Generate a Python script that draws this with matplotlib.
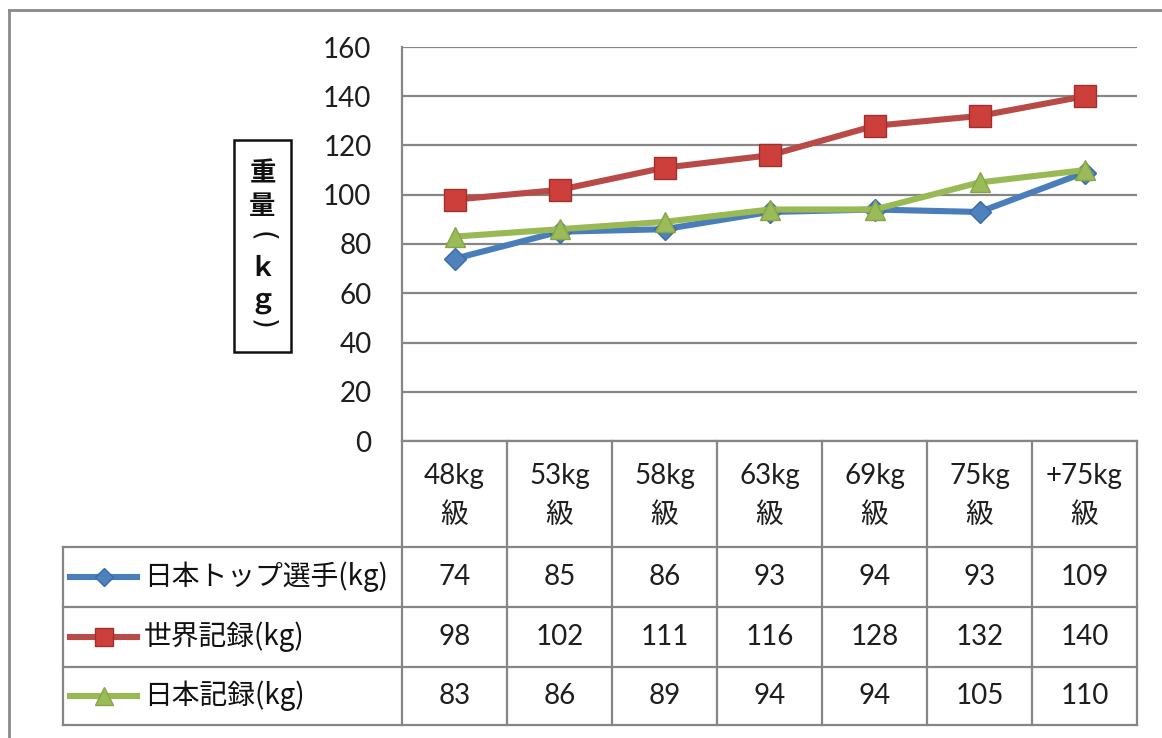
import matplotlib
matplotlib.use('Agg')
import matplotlib.pyplot as plt
from matplotlib.lines import Line2D
from matplotlib.patches import Rectangle
from matplotlib.transforms import blended_transform_factory

# ---- data ----
cat_weights = ['48kg', '53kg', '58kg', '63kg', '69kg', '75kg', '+75kg']
cat_suffix = '級'
series_names = ['日本トップ選手(kg)', '世界記録(kg)', '日本記録(kg)']
top_japan = [74, 85, 86, 93, 94, 93, 109]
world_record = [98, 102, 111, 116, 128, 132, 140]
japan_record = [83, 86, 89, 94, 94, 105, 110]
y_ticks = [0, 20, 40, 60, 80, 100, 120, 140, 160]

series = [top_japan, world_record, japan_record]
line_colors = ['#4A7EBB', '#B84A47', '#98B954']
face_colors = ['#4F81BD', '#CD3F3B', '#9BBB59']
edge_colors = ['#3A6AA5', '#A0302E', '#86A545']
markers = ['D', 's', '^']
msizes = [11, 16, 15]

W, H = 1162, 738
fig = plt.figure(figsize=(W / 100, H / 100), dpi=100)
fig.patch.set_facecolor('white')


def fx(px):
    return px / W


def fy(py):
    return 1 - py / H


NUM_FONT = ['Lato', 'Noto Sans CJK JP']
CJK_FONT = ['Noto Sans CJK JP', 'DejaVu Sans']
GRID = '#868686'
TXT = '#1e1e1e'

L, R, T, B = 402, 1137, 47, 441
ax = fig.add_axes([fx(L), fy(B), (R - L) / W, (B - T) / H])
n = len(cat_weights)
xs = [i + 0.5 for i in range(n)]
for vals, lc, fc, ec, mk, ms in zip(series, line_colors, face_colors, edge_colors, markers, msizes):
    ax.plot(xs, vals, color=lc, lw=4.4, marker=mk, ms=ms, mfc=fc, mec=ec, mew=1.0,
            solid_joinstyle='round', zorder=3)
ax.set_xlim(0, n)
ax.set_ylim(0, 160)
ax.set_yticks(y_ticks)
ax.set_xticks([])
ax.yaxis.grid(True, color=GRID, lw=1.6, zorder=0)
ax.set_axisbelow(True)
for s in ['top', 'right', 'bottom']:
    ax.spines[s].set_visible(False)
ax.spines['left'].set_color(GRID)
ax.spines['left'].set_linewidth(1.6)
ax.tick_params(axis='y', length=0, pad=22, labelsize=20, labelcolor=TXT)
for lab in ax.get_yticklabels():
    lab.set_fontfamily(NUM_FONT)
ax.patch.set_alpha(0)

# ---- data table ----
def hline(x0, x1, y, lw=1.6):
    fig.add_artist(Line2D([fx(x0), fx(x1)], [fy(y), fy(y)], transform=fig.transFigure,
                          color=GRID, lw=lw))


def vline(x, y0, y1, lw=1.6):
    fig.add_artist(Line2D([fx(x), fx(x)], [fy(y0), fy(y1)], transform=fig.transFigure,
                          color=GRID, lw=lw))


rows_y = [441, 547, 607, 667, 725]
LEG_L = 63
hline(L, R, rows_y[0])
for y in rows_y[1:]:
    hline(LEG_L, R, y)
vline(L, rows_y[0], rows_y[-1])
vline(LEG_L, rows_y[1], rows_y[-1])
for i in range(1, n + 1):
    xd = ax.transData.transform((i, 0))[0]
    fig.add_artist(Line2D([xd / W, xd / W], [fy(rows_y[0]), fy(rows_y[-1])],
                          transform=fig.transFigure, color=GRID, lw=1.6))

bt = blended_transform_factory(ax.transData, fig.transFigure)
for x, cw in zip(xs, cat_weights):
    ax.text(x, fy(476), cw, transform=bt, ha='center', va='center',
            fontsize=20, family=NUM_FONT, color=TXT)
    ax.text(x, fy(515), cat_suffix, transform=bt, ha='center', va='center',
            fontsize=20, family=CJK_FONT, color=TXT)

for r, (vals, name, lc, fc, ec, mk, ms) in enumerate(
        zip(series, series_names, line_colors, face_colors, edge_colors, markers, msizes)):
    yc = (rows_y[r + 1] + rows_y[r + 2]) / 2
    for x, v in zip(xs, vals):
        ax.text(x, fy(yc), str(v), transform=bt, ha='center', va='center',
                fontsize=20, family=NUM_FONT, color=TXT)
    fig.add_artist(Line2D([fx(70), fx(103.5), fx(137)], [fy(yc)] * 3, transform=fig.transFigure,
                          color=lc, lw=4.4, marker=mk, ms=ms * 0.85, mfc=fc, mec=ec,
                          markevery=[1]))
    fig.text(fx(144), fy(yc), name, ha='left', va='center', fontsize=20,
             family=CJK_FONT, color='#111111')

# ---- y label box (vertical stacked text) ----
fig.add_artist(Rectangle((fx(234), fy(352)), (291 - 234) / W, (352 - 140) / H,
                         transform=fig.transFigure, fill=False, ec='#111111', lw=1.8))
label_parts = [('重', 0, 174, CJK_FONT, 19, 'bold'), ('量', 0, 206, CJK_FONT, 19, 'bold'),
               ('(', -90, 236, ['DejaVu Sans'], 20, 'normal'), ('ｋ', 0, 268, CJK_FONT, 19, 'bold'),
               ('ｇ', 0, 300, CJK_FONT, 19, 'bold'), (')', -90, 324, ['DejaVu Sans'], 20, 'normal')]
for ch, rot, yy, fam, fs, fw in label_parts:
    fig.text(fx(262.5), fy(yy), ch, ha='center', va='center', fontsize=fs,
             fontweight=fw, family=fam, rotation=rot, color='#111111')

# ---- outer frame ----
fig.add_artist(Line2D([fx(9), fx(W)], [fy(10), fy(10)], transform=fig.transFigure,
                      color='#8a8a8a', lw=2))
fig.add_artist(Line2D([fx(9), fx(9)], [fy(10), fy(H)], transform=fig.transFigure,
                      color='#8a8a8a', lw=2))

fig.savefig('out.png', dpi=100, facecolor='white')
